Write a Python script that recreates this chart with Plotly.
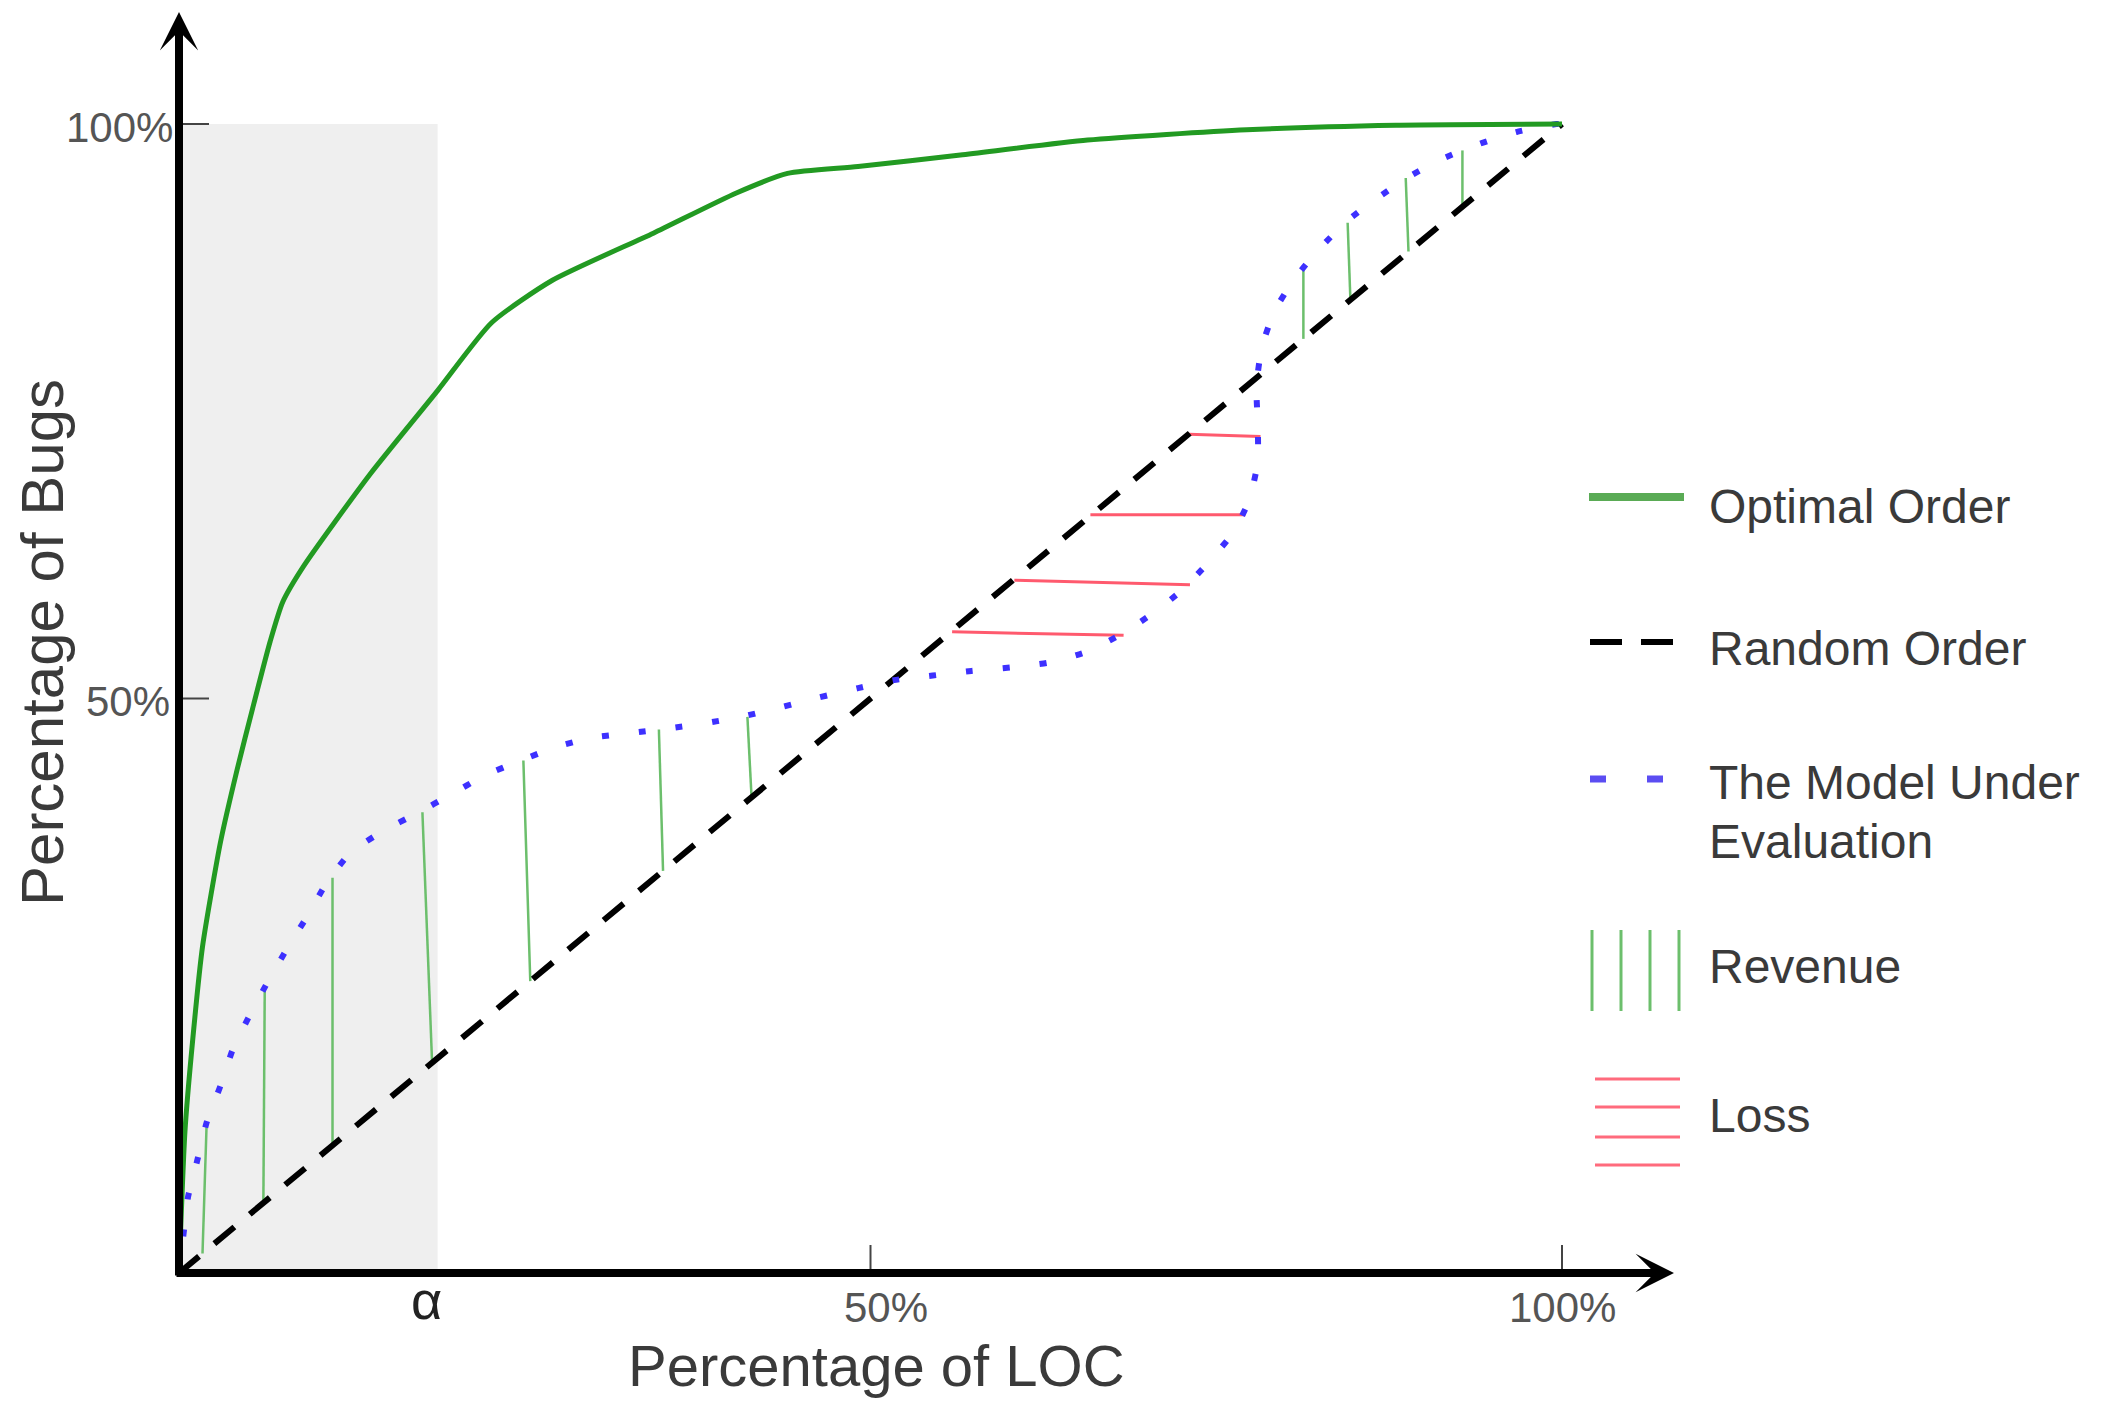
import plotly.graph_objects as go

# ---------------- data (percentages) ----------------
optimal_x = [0, 0.43, 1.0, 1.7, 3.0, 4.2, 5.4, 6.6, 7.5, 9.0, 13.8, 18.7, 22.6, 27.0,
             34.3, 40.3, 44.0, 49.1, 56.5, 65.7, 77.2, 88.0, 100]
optimal_y = [0, 12.3, 20.4, 28.4, 37.5, 43.8, 49.5, 55.0, 58.4, 61.5, 69.5, 76.8, 82.7, 86.4,
             90.5, 94.0, 95.7, 96.3, 97.3, 98.6, 99.5, 99.9, 100]

random_x = [0, 100]
random_y = [0, 100]

model_x = [0, 0.3, 0.65, 1.3, 2.0, 3.0, 3.9, 5.1, 6.4, 7.8, 9.3, 10.7, 12.4, 14.8, 17.2,
           19.6, 22.1, 24.7, 27.3, 29.9, 32.7, 35.4, 38.3, 41.0, 43.7, 46.3, 49.1, 51.7,
           54.5, 57.3, 60.1, 62.8, 65.5, 68.0, 70.4, 72.5, 74.4, 76.2, 77.4, 78.0, 78.0,
           77.9, 78.3, 79.2, 80.7, 82.5, 84.5, 86.7, 89.2, 91.4, 94.1, 96.7, 99.6, 100]
model_y = [0, 3.1, 6.6, 9.7, 13.1, 16.3, 19.5, 22.4, 25.3, 28.2, 31.1, 34.0, 36.6, 38.5, 40.0,
           41.6, 43.3, 44.6, 45.8, 46.6, 47.0, 47.4, 47.9, 48.5, 49.3, 50.1, 50.9, 51.6,
           52.0, 52.4, 52.7, 53.1, 54.0, 55.5, 57.4, 59.4, 61.8, 64.4, 67.3, 70.6, 74.0,
           77.2, 80.6, 83.7, 86.6, 89.2, 91.6, 93.6, 95.6, 97.0, 98.3, 99.3, 100, 100]

# revenue segments: top on the model curve, bottom on the random line
rev_x_top = [2.0, 6.2, 11.1, 17.6, 24.9, 34.7, 41.1, 81.3, 84.5, 88.7, 92.8]
rev_y_top = [13.1, 24.9, 34.4, 40.1, 44.6, 47.3, 48.4, 87.6, 91.4, 95.3, 97.7]
rev_x_bot = [1.7, 6.1, 11.1, 18.3, 25.4, 35.0, 41.4, 81.3, 84.7, 88.9, 92.8]

# loss segments: left on the random line, right on the model curve
loss_x_left = [55.9, 60.4, 65.9, 73.0]
loss_y_left = [55.8, 60.3, 66.0, 73.0]
loss_x_right = [68.3, 73.1, 77.1, 78.2]
loss_y_right = [55.5, 59.9, 66.0, 72.8]

alpha_x = 18.7
x_tick_vals = [50, 100]
x_tick_text = ["50%", "100%"]
y_tick_vals = [50, 100]
y_tick_text = ["50%", "100%"]

legend_labels = ["Optimal Order", "Random Order", "The Model Under", "Evaluation", "Revenue", "Loss"]

# ---------------- geometry (page pixels) ----------------
PAGE_W, PAGE_H = 2112, 1409
OFF = 8                      # default body margin of the html page
W, H = PAGE_W - 2 * OFF, PAGE_H - 2 * OFF
X0PX, X100PX = 179, 1562
Y0PX, Y100PX = 1273, 124
sx = (X100PX - X0PX) / 100.0
sy = (Y0PX - Y100PX) / 100.0


def dx(px):
    return (px - X0PX) / sx


def dy(py):
    return (Y0PX - py) / sy


x_range = [dx(OFF), dx(OFF + W)]
y_range = [dy(OFF + H), dy(OFF)]

FONT = "Liberation Sans"
TXT = "#3a3a3a"

fig = go.Figure()

# revenue lines
rx, ry = [], []
for xt, yt, xb in zip(rev_x_top, rev_y_top, rev_x_bot):
    rx += [xt, xb, None]
    ry += [yt, xb, None]
fig.add_trace(go.Scatter(x=rx, y=ry, mode="lines",
                         line=dict(color="#6cbf6c", width=2.5), hoverinfo="skip"))

# loss lines
lx, ly = [], []
for a, b, c, d in zip(loss_x_left, loss_y_left, loss_x_right, loss_y_right):
    lx += [a, c, None]
    ly += [b, d, None]
fig.add_trace(go.Scatter(x=lx, y=ly, mode="lines",
                         line=dict(color="#ff5a6e", width=3), hoverinfo="skip"))

# random order
fig.add_trace(go.Scatter(x=random_x, y=random_y, mode="lines",
                         line=dict(color="black", width=6, dash="26px,20px")))

# model under evaluation
fig.add_trace(go.Scatter(x=model_x, y=model_y, mode="lines",
                         line=dict(color="#3d30ff", width=6, dash="7px,30px",
                                   shape="spline", smoothing=0.5)))

# optimal order
fig.add_trace(go.Scatter(x=optimal_x, y=optimal_y, mode="lines",
                         line=dict(color="#229a22", width=5, shape="spline", smoothing=0.6)))

shapes = []
# grey alpha region
shapes.append(dict(type="rect", x0=0, x1=alpha_x, y0=0, y1=100, xref="x", yref="y",
                   fillcolor="#efefef", line=dict(width=0), layer="below"))
# ticks
for v in y_tick_vals:
    shapes.append(dict(type="line", x0=0, x1=dx(X0PX + 30), y0=v, y1=v,
                       line=dict(color="#444", width=2)))
for v in x_tick_vals:
    shapes.append(dict(type="line", x0=v, x1=v, y0=0, y1=dy(Y0PX - 28),
                       line=dict(color="#444", width=2)))

# legend glyphs
shapes.append(dict(type="line", x0=dx(1589), x1=dx(1684), y0=dy(497), y1=dy(497),
                   line=dict(color="#5aab55", width=8)))
for a, b in [(1590, 1622), (1641, 1673)]:
    shapes.append(dict(type="line", x0=dx(a), x1=dx(b), y0=dy(642), y1=dy(642),
                       line=dict(color="black", width=6)))
for a, b in [(1590, 1606), (1647, 1663)]:
    shapes.append(dict(type="line", x0=dx(a), x1=dx(b), y0=dy(779), y1=dy(779),
                       line=dict(color="#5b4df2", width=7)))
for p in [1592, 1621, 1650, 1679]:
    shapes.append(dict(type="line", x0=dx(p), x1=dx(p), y0=dy(930), y1=dy(1011),
                       line=dict(color="#6cbf6c", width=3)))
for p in [1079, 1107, 1137, 1165]:
    shapes.append(dict(type="line", x0=dx(1595), x1=dx(1680), y0=dy(p), y1=dy(p),
                       line=dict(color="#ff6b7d", width=3)))

annotations = []
# axes with arrow heads
annotations.append(dict(x=dx(1674), y=0, ax=dx(175), ay=0, xref="x", yref="y",
                        axref="x", ayref="y", text="", showarrow=True, arrowhead=3,
                        arrowwidth=8, arrowsize=0.8, arrowcolor="black"))
annotations.append(dict(x=0, y=dy(12), ax=0, ay=dy(1277), xref="x", yref="y",
                        axref="x", ayref="y", text="", showarrow=True, arrowhead=3,
                        arrowwidth=8, arrowsize=0.8, arrowcolor="black"))
# tick labels
for v, t, xs in zip(x_tick_vals, x_tick_text, [15, 0]):
    annotations.append(dict(x=v, y=dy(1307), text=t, showarrow=False, xshift=xs,
                            xanchor="center", yanchor="middle",
                            font=dict(family=FONT, size=42, color="#555")))
for v, t, xs in zip(y_tick_vals, y_tick_text, [-7, -4]):
    annotations.append(dict(x=0, y=v, text=t, showarrow=False, xshift=xs, yshift=-3,
                            xanchor="right", yanchor="middle",
                            font=dict(family=FONT, size=42, color="#555")))
# alpha
annotations.append(dict(x=dx(426), y=dy(1300), text="α", showarrow=False,
                        xanchor="center", yanchor="middle",
                        font=dict(family=FONT, size=54, color="#222")))
# axis titles
annotations.append(dict(x=dx(876), y=dy(1365), text="Percentage of LOC", showarrow=False,
                        xanchor="center", yanchor="middle",
                        font=dict(family=FONT, size=58, color=TXT)))
annotations.append(dict(x=dx(42), y=dy(643), text="Percentage of Bugs", showarrow=False,
                        textangle=-90, xanchor="center", yanchor="middle",
                        font=dict(family=FONT, size=60, color=TXT)))
# legend labels
for t, py in zip(legend_labels, [506, 648, 782, 841, 966, 1115]):
    annotations.append(dict(x=dx(1707), y=dy(py), text=t, showarrow=False,
                            xanchor="left", yanchor="middle",
                            font=dict(family=FONT, size=48, color=TXT)))

fig.update_layout(
    width=W, height=H,
    margin=dict(l=0, r=0, t=0, b=0, pad=0),
    paper_bgcolor="white", plot_bgcolor="white",
    showlegend=False,
    xaxis=dict(range=x_range, visible=False, fixedrange=True),
    yaxis=dict(range=y_range, visible=False, fixedrange=True),
    shapes=shapes, annotations=annotations,
)

fig.write_html("out.html")
